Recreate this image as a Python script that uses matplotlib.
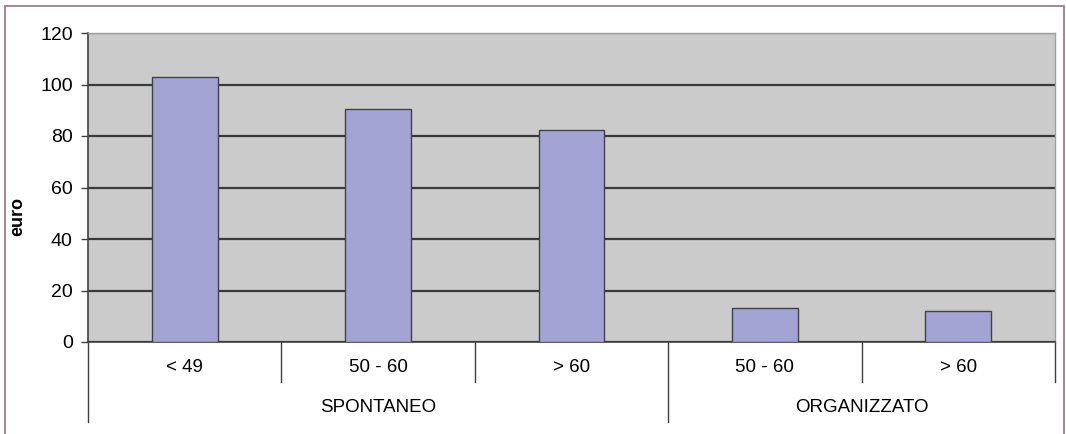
import matplotlib
matplotlib.use("Agg")
import matplotlib.pyplot as plt
from matplotlib.patches import Rectangle
from matplotlib.transforms import blended_transform_factory

# dati
fasce = ["< 49", "50 - 60", "> 60", "50 - 60", "> 60"]
gruppi = ["SPONTANEO", "ORGANIZZATO"]
n_per_gruppo = [3, 2]
valori = [103.0, 90.4, 82.2, 13.2, 12.0]

plt.rcParams['font.family'] = ['Liberation Sans', 'DejaVu Sans']

fig = plt.figure(figsize=(10.66, 4.34), dpi=100)
ax = fig.add_axes([88 / 1066, 1 - 342 / 434, 967 / 1066, 309 / 434])

ax.set_facecolor("#cbcbcb")
x = list(range(len(valori)))
ax.bar(x, valori, width=0.34, color="#a4a4d4", edgecolor="#404050", linewidth=1.0, zorder=3)

ax.set_xlim(-0.5, len(valori) - 0.5)
ax.set_ylim(0, 120)
ax.set_yticks(range(0, 121, 20))
ax.yaxis.grid(True, color="#3a3a3a", linewidth=1.6, zorder=1)
ax.set_axisbelow(True)
ax.tick_params(axis="y", direction="out", length=5, width=1, color="#404040",
               labelsize=14, pad=6)
ax.set_xticks([])
for s in ["top", "right"]:
    ax.spines[s].set_color("#a0a0a0")
    ax.spines[s].set_linewidth(1)
ax.spines["left"].set_color("#404040")
ax.spines["bottom"].set_color("#404040")
ax.spines["left"].set_linewidth(1.2)
ax.spines["bottom"].set_linewidth(1.2)

# titolo asse y
fig.text(18 / 1066, 1 - 216 / 434, "euro", rotation=90, ha="center", va="center",
         fontsize=13, fontweight="bold")

# asse categorie a due livelli
tr = blended_transform_factory(ax.transData, ax.transAxes)
y_corto = -40 / 309
y_lungo = -80 / 309
inizi_gruppo = []
pos = -0.5
for n in n_per_gruppo:
    inizi_gruppo.append(pos)
    pos += n
for i in range(len(valori) + 1):
    xs = i - 0.5
    yb = y_lungo if xs in inizi_gruppo else y_corto
    ax.plot([xs, xs], [0, yb], transform=tr, color="#404040", linewidth=1, clip_on=False)
for i, lab in enumerate(fasce):
    ax.text(i, -25 / 309, lab, transform=tr, ha="center", va="center", fontsize=13.5)
for g, start, n in zip(gruppi, inizi_gruppo, n_per_gruppo):
    ax.text(start + n / 2, -65 / 309, g, transform=tr, ha="center", va="center", fontsize=13.5)

# cornice esterna
fig.patches.append(Rectangle((5 / 1066, -0.05), 1059 / 1066, 1.05 - 6 / 434,
                             transform=fig.transFigure, fill=False,
                             edgecolor="#a8788a", linewidth=1.3))

fig.savefig("out.png", dpi=100)
